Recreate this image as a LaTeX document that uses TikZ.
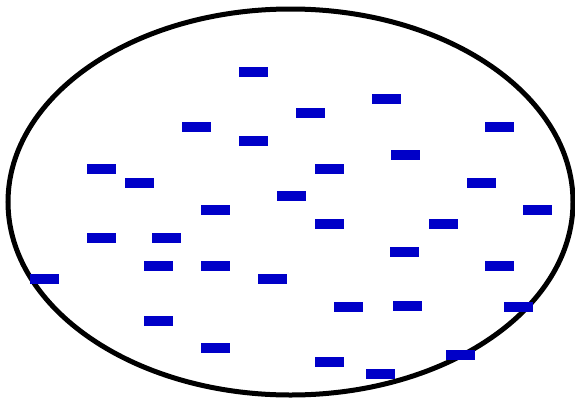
\documentclass[tikz,border=0pt]{standalone}
\definecolor{barblue}{RGB}{0,0,200}
\tikzset{
    grain/.style={draw=none, fill=barblue, rectangle, minimum width=29pt, minimum height=10pt, inner sep=0pt}
}
\begin{document}
\begin{tikzpicture}[x=1pt, y=-1pt]
    \useasboundingbox (0, 0) rectangle (575, 399);

    % Contour
    \draw[line width=5pt] (290.5, 202) ellipse (282.5pt and 193pt);

    % Haut
    \node[grain] (g1) at (253.5, 72) {};
    \node[grain] (g2) at (386.5, 99) {};
    \node[grain] (g3) at (310.5, 113) {};
    \node[grain] (g4) at (196.5, 127) {};
    \node[grain] (g5) at (499.5, 127) {};
    \node[grain] (g6) at (253.5, 141) {};
    \node[grain] (g7) at (405.5, 155) {};
    \node[grain] (g8) at (101.5, 169) {};
    \node[grain] (g9) at (329.5, 169) {};
    \node[grain] (g10) at (139.5, 183) {};
    \node[grain] (g11) at (481.5, 183) {};

    % Milieu
    \node[grain] (g12) at (291.5, 196) {};
    \node[grain] (g13) at (215.5, 210) {};
    \node[grain] (g14) at (537.5, 210) {};
    \node[grain] (g15) at (329.5, 224) {};
    \node[grain] (g16) at (443.5, 224) {};
    \node[grain] (g17) at (101.5, 238) {};
    \node[grain] (g18) at (166.5, 238) {};
    \node[grain] (g19) at (404.5, 252) {};
    \node[grain] (g20) at (158.5, 266) {};
    \node[grain] (g21) at (215.5, 266) {};
    \node[grain] (g22) at (499.5, 266) {};
    \node[grain] (g23) at (44.5, 279) {};
    \node[grain] (g24) at (272.5, 279) {};

    % Bas
    \node[grain] (g25) at (407.5, 306) {};
    \node[grain] (g26) at (348.5, 307) {};
    \node[grain] (g27) at (518.5, 307) {};
    \node[grain] (g28) at (158.5, 321) {};
    \node[grain] (g29) at (215.5, 348) {};
    \node[grain] (g30) at (460.5, 355) {};
    \node[grain] (g31) at (329.5, 362) {};
    \node[grain] (g32) at (380.5, 374) {};

\end{tikzpicture}
\end{document}
